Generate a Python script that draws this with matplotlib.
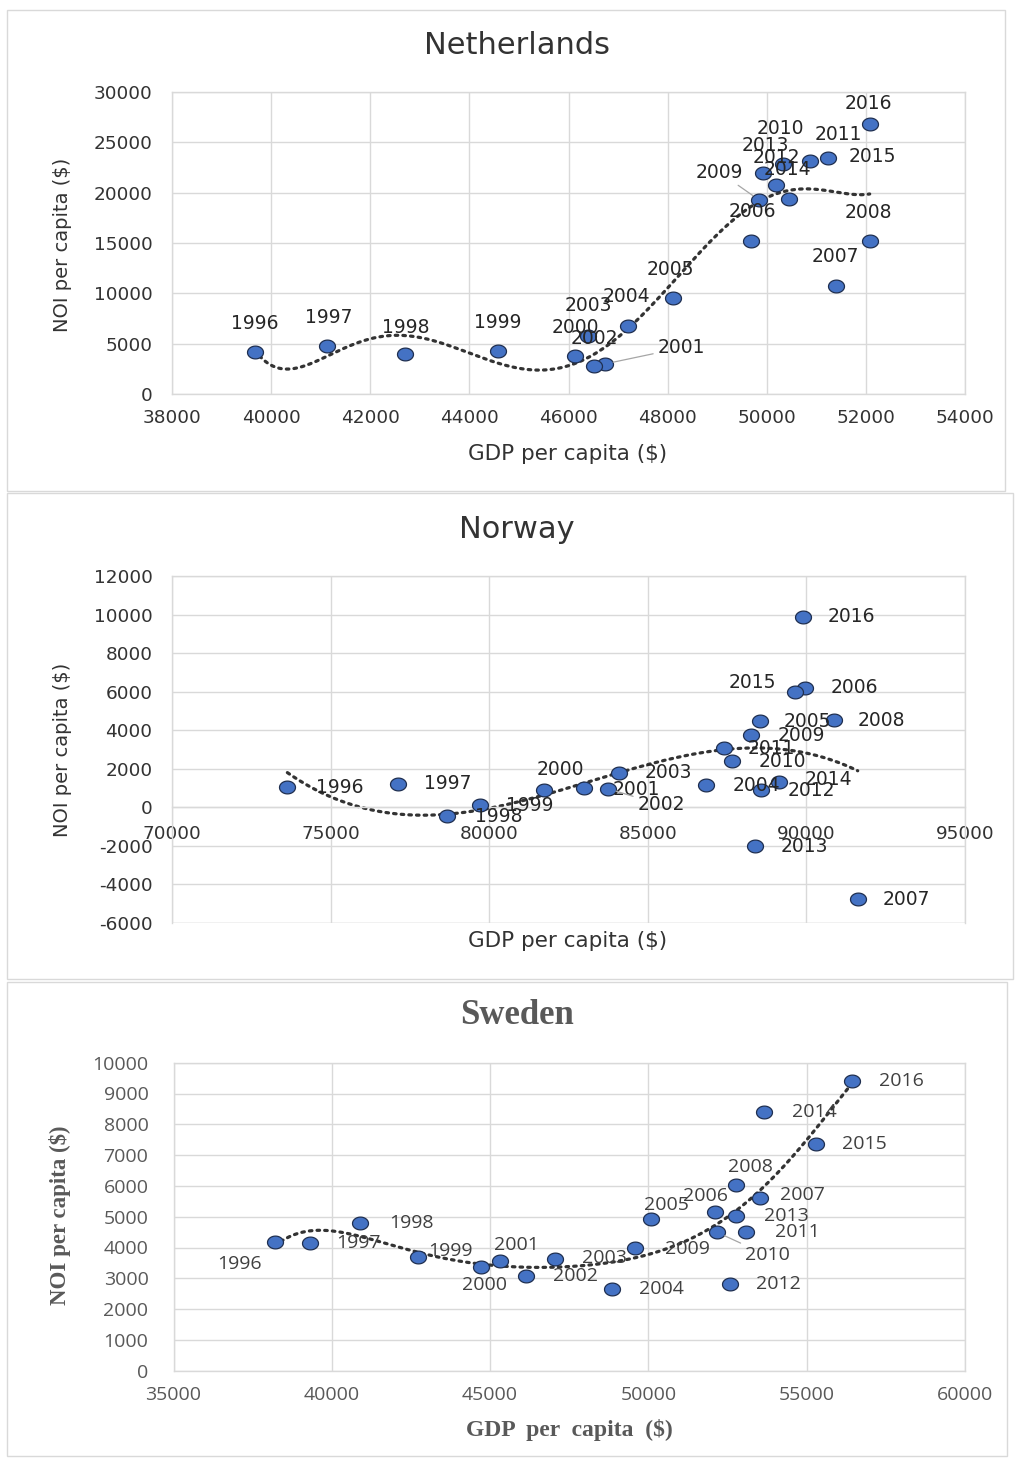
import numpy as np
import matplotlib
matplotlib.use("Agg")
import matplotlib.pyplot as plt
from matplotlib.path import Path
from matplotlib.patches import Rectangle

plt.rcParams['axes.unicode_minus'] = False

# ---------------- data ----------------
years = [str(y) for y in range(1996, 2017)]

nl_gdp = [39670, 41122, 42703, 44579, 46134, 46737, 46516, 46402, 47193, 48104, 49685,
          51393, 52077, 49853, 50322, 50878, 50195, 49925, 50455, 51226, 52077]
nl_noi = [4150, 4780, 3950, 4310, 3815, 2990, 2790, 5810, 6800, 9530, 15170,
          10690, 15170, 19250, 22810, 23140, 20720, 21910, 19420, 23480, 26790]

no_gdp = [73637, 77139, 78665, 79716, 81735, 82975, 83744, 84079, 86845, 88549, 89968,
          91618, 90861, 88256, 87656, 87392, 88580, 88391, 89126, 89653, 89883]
no_noi = [1040, 1215, -470, 90, 885, 1010, 955, 1750, 1127, 4468, 6203,
          -4795, 4503, 3725, 2390, 3086, 885, -2026, 1320, 5995, 9891]

se_gdp = [38196, 39296, 40891, 42711, 44718, 45298, 46135, 47042, 48862, 50076, 52115,
          53522, 52771, 49578, 52169, 53098, 52571, 52781, 53649, 55285, 56427]
se_noi = [4188, 4136, 4805, 3701, 3357, 3552, 3084, 3627, 2643, 4916, 5143,
          5597, 6029, 3994, 4494, 4494, 2815, 5032, 8409, 7351, 9406]

nl_xticks = list(range(38000, 54001, 2000))
nl_yticks = list(range(0, 30001, 5000))
no_xticks = list(range(70000, 95001, 5000))
no_yticks = list(range(-6000, 12001, 2000))
se_xticks = list(range(35000, 60001, 5000))
se_yticks = list(range(0, 10001, 1000))

# label offsets (pixels) relative to each marker
nl_off = [(0, 29), (2, 28), (1, 27), (0, 28), (0, 28), (76, 16), (0, 27), (0, 30), (-1, 29),
          (-2, 29), (1, 30), (0, 30), (-1, 29), (-40, 28), (-2, 36), (28, 27), (0, 28),
          (2, 28), (-2, 29), (45, 1), (-1, 21)]
nl_leader = {"2001", "2009"}
no_off = [(52, 0), (49, 0), (52, 0), (50, 0), (16, 21), (53, -2), (53, -16), (50, 1), (50, 0),
          (47, 0), (49, 0), (49, 0), (48, 0), (50, 0), (50, 0), (48, -1), (50, 0), (49, 0),
          (50, 2), (-43, 9), (49, 0)]
no_leader = {"2002"}
se_off = [(-35, -22), (49, 0), (51, 0), (33, 6), (3, -18), (17, 16), (49, 0), (50, 1),
          (49, 0), (16, 14), (-10, 16), (43, 3), (14, 18), (52, -1), (50, -23), (51, 0),
          (49, 0), (50, 0), (50, 0), (49, 0), (50, 0)]
se_leader = {"2010"}

# ---------------- layout ----------------
W, H = 1015, 1461
fig = plt.figure(figsize=(W / 100, H / 100), dpi=100)
fig.patch.set_facecolor('white')


def rect(l, t, r, b):
    return [l / W, 1 - b / H, (r - l) / W, (b - t) / H]


def fx(px):
    return px / W


def fy(py):
    return 1 - py / H


# panel frames
for (l, t, r, b) in [(7, 10, 1005, 491), (7, 493, 1013, 979), (7, 982, 1007, 1456)]:
    fig.patches.append(Rectangle((l / W, 1 - b / H), (r - l) / W, (b - t) / H,
                                 transform=fig.transFigure, fill=False,
                                 edgecolor='#D9D9D9', lw=1.0))

theta = np.linspace(0, 2 * np.pi, 60)
ell = Path(np.column_stack([np.cos(theta), 0.8 * np.sin(theta)]), closed=True)

GRID = '#D9D9D9'
FILL = '#4472C4'
EDGE = '#1F2F50'


def panel(axrect, gdp, noi, xticks, yticks, offs, leaders, deg,
          tick_color, label_color, tick_font, tick_size, lab_size, ypad, xpad,
          zero_axis=False):
    ax = fig.add_axes(axrect)
    ax.set_xlim(xticks[0], xticks[-1])
    ax.set_ylim(yticks[0], yticks[-1])
    ax.set_xticks(xticks)
    ax.set_yticks(yticks)
    ax.grid(True, color=GRID, lw=1.0)
    ax.set_axisbelow(True)
    for s in ax.spines.values():
        s.set_color(GRID)
        s.set_linewidth(1.0)
    ax.tick_params(length=0, colors=tick_color, labelsize=tick_size)
    ax.tick_params(axis='y', pad=ypad)
    ax.tick_params(axis='x', pad=xpad)
    for lab in ax.get_xticklabels() + ax.get_yticklabels():
        lab.set_family(tick_font)
    if zero_axis:
        ax.spines['bottom'].set_position(('data', 0))
        ax.axhline(yticks[0], color=GRID, lw=1.0, zorder=0.5)

    g = np.array(gdp, float)
    n = np.array(noi, float)
    xm, xs = g.mean(), g.std()
    coef = np.polyfit((g - xm) / xs, n, deg)
    xx = np.linspace(g.min(), g.max(), 300)
    yy = np.polyval(coef, (xx - xm) / xs)
    ax.plot(xx, yy, color='#333333', lw=2.3, ls=(0, (0.8, 1.6)),
            dash_capstyle='round', zorder=2)
    ax.plot(g, n, ls='none', marker=ell, markersize=11.5, markerfacecolor=FILL,
            markeredgecolor=EDGE, markeredgewidth=0.9, zorder=3)
    for x, y, yr, (dx, dy) in zip(g, n, years, offs):
        kw = {}
        if yr in leaders:
            kw['arrowprops'] = dict(arrowstyle='-', color='#A6A6A6', lw=0.9,
                                    shrinkA=1, shrinkB=6)
        ax.annotate(yr, xy=(x, y), xytext=(dx, dy), textcoords='offset pixels',
                    ha='center', va='center', fontsize=lab_size, color=label_color,
                    family=tick_font, zorder=4, **kw)
    return ax


SANS = 'DejaVu Sans'
ax1 = panel(rect(172, 92, 965, 394), nl_gdp, nl_noi, nl_xticks, nl_yticks, nl_off,
            nl_leader, 6, '#333333', '#262626', SANS, 13.3, 13.5, 14, 11)
ax2 = panel(rect(172, 576, 965, 922.7), no_gdp, no_noi, no_xticks, no_yticks, no_off,
            no_leader, 3, '#333333', '#262626', SANS, 13.3, 13.5, 14, 13, zero_axis=True)
ax3 = panel(rect(173.5, 1062.7, 965, 1370.7), se_gdp, se_noi, se_xticks, se_yticks,
            se_off, se_leader, 6, '#595959', '#404040', 'Open Sans', 14, 14, 18, 11)

# titles
fig.text(fx(517), fy(46), 'Netherlands', ha='center', va='center', fontsize=22,
         color='#333333', family=SANS)
fig.text(fx(517), fy(530), 'Norway', ha='center', va='center', fontsize=22,
         color='#333333', family=SANS)
fig.text(fx(517), fy(1015), 'Sweden', ha='center', va='center', fontsize=25,
         color='#595959', family='Liberation Serif', fontweight='bold')

# axis titles
for yc in [454, 941]:
    fig.text(fx(568), fy(yc), 'GDP per capita ($)', ha='center', va='center',
             fontsize=15.5, color='#333333', family=SANS)
for yc in [245, 750]:
    fig.text(fx(62), fy(yc), 'NOI per capita ($)', ha='center', va='center',
             rotation=90, fontsize=14, color='#333333', family=SANS)
fig.text(fx(569), fy(1430), 'GDP  per  capita  ($)', ha='center', va='center',
         fontsize=17, color='#595959', family='Liberation Serif', fontweight='bold')
fig.text(fx(60), fy(1215), 'NOI per capita ($)', ha='center', va='center', rotation=90,
         fontsize=16.5, color='#595959', family='Liberation Serif', fontweight='bold')

fig.savefig('out.png', dpi=100, facecolor='white')
